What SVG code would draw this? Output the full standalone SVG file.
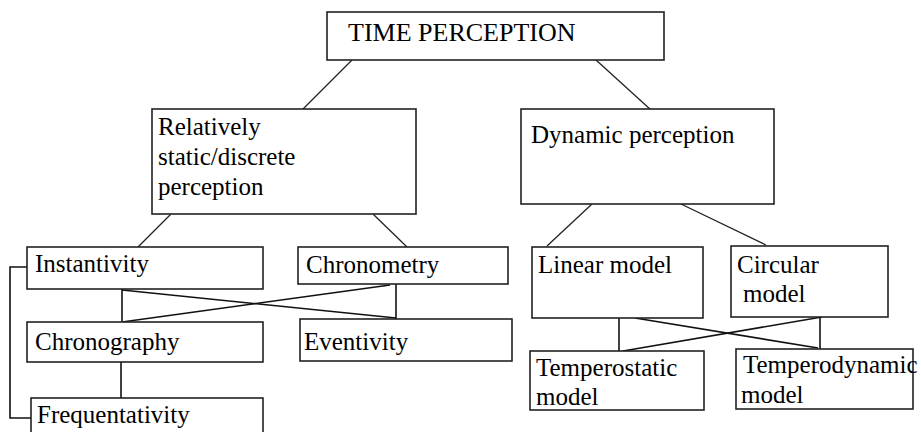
<svg xmlns="http://www.w3.org/2000/svg" width="921" height="432" viewBox="0 0 921 432">
<style>
.box{fill:#fff;stroke:#222;stroke-width:1.6}
.t{font-family:"Liberation Serif","Times New Roman",serif;font-size:25px;fill:#000}
.c{stroke:#222;stroke-width:1.3;fill:none}
.c2{stroke:#111;stroke-width:1.6;fill:none}
</style>
<rect width="921" height="432" fill="#fff"/>
<g id="connectors">
<line class="c" x1="352" y1="60" x2="303" y2="109"/>
<line class="c" x1="596" y1="60" x2="651" y2="110"/>
<line class="c" x1="171" y1="214" x2="138" y2="247"/>
<line class="c" x1="373" y1="214" x2="407" y2="247"/>
<line class="c" x1="592" y1="204" x2="547" y2="246"/>
<line class="c" x1="681" y1="204" x2="766" y2="245"/>
<polyline class="c2" points="27,267 10,267 10,418 31,418"/>
<line class="c2" x1="122" y1="289" x2="122" y2="322"/>
<line class="c2" x1="396" y1="284" x2="396" y2="319"/>
<line class="c2" x1="122" y1="290" x2="396" y2="318"/>
<line class="c2" x1="122" y1="322" x2="390" y2="285"/>
<line class="c2" x1="121" y1="362" x2="121" y2="398"/>
<line class="c2" x1="619" y1="318" x2="619" y2="351"/>
<line class="c2" x1="820" y1="317" x2="820" y2="349"/>
<line class="c2" x1="635" y1="318" x2="818" y2="348"/>
<line class="c2" x1="623" y1="351" x2="822" y2="317"/>
</g>
<g id="time-perception">
<rect class="box" x="327" y="12" width="337" height="48"/>
<text class="t" x="348" y="41" style="font-size:26px">TIME PERCEPTION</text>
</g>
<g id="static">
<rect class="box" x="152" y="109" width="264" height="105"/>
<text class="t" x="158" y="135">Relatively</text>
<text class="t" x="158" y="165">static/discrete</text>
<text class="t" x="158" y="195">perception</text>
</g>
<g id="dynamic">
<rect class="box" x="521" y="109" width="253" height="95"/>
<text class="t" x="531" y="143">Dynamic perception</text>
</g>
<g id="instantivity">
<rect class="box" x="27" y="247" width="236" height="42"/>
<text class="t" x="35" y="272">Instantivity</text>
</g>
<g id="chronometry">
<rect class="box" x="298" y="247" width="210" height="37"/>
<text class="t" x="306" y="273">Chronometry</text>
</g>
<g id="chronography">
<rect class="box" x="27" y="322" width="236" height="40"/>
<text class="t" x="35" y="350">Chronography</text>
</g>
<g id="eventivity">
<rect class="box" x="300" y="319" width="212" height="42"/>
<text class="t" x="304" y="350">Eventivity</text>
</g>
<g id="frequentativity">
<rect class="box" x="31" y="398" width="232" height="50"/>
<text class="t" x="37" y="423">Frequentativity</text>
</g>
<g id="linear">
<rect class="box" x="532" y="247" width="171" height="71"/>
<text class="t" x="538" y="273">Linear model</text>
</g>
<g id="circular">
<rect class="box" x="731" y="246" width="157" height="71"/>
<text class="t" x="737" y="273">Circular</text>
<text class="t" x="743" y="302">model</text>
</g>
<g id="temperostatic">
<rect class="box" x="530" y="351" width="174" height="59"/>
<text class="t" x="536" y="376">Temperostatic</text>
<text class="t" x="536" y="405">model</text>
</g>
<g id="temperodynamic">
<rect class="box" x="736" y="349" width="177" height="60"/>
<text class="t" x="743" y="373">Temperodynamic</text>
<text class="t" x="741" y="403">model</text>
</g>
</svg>
